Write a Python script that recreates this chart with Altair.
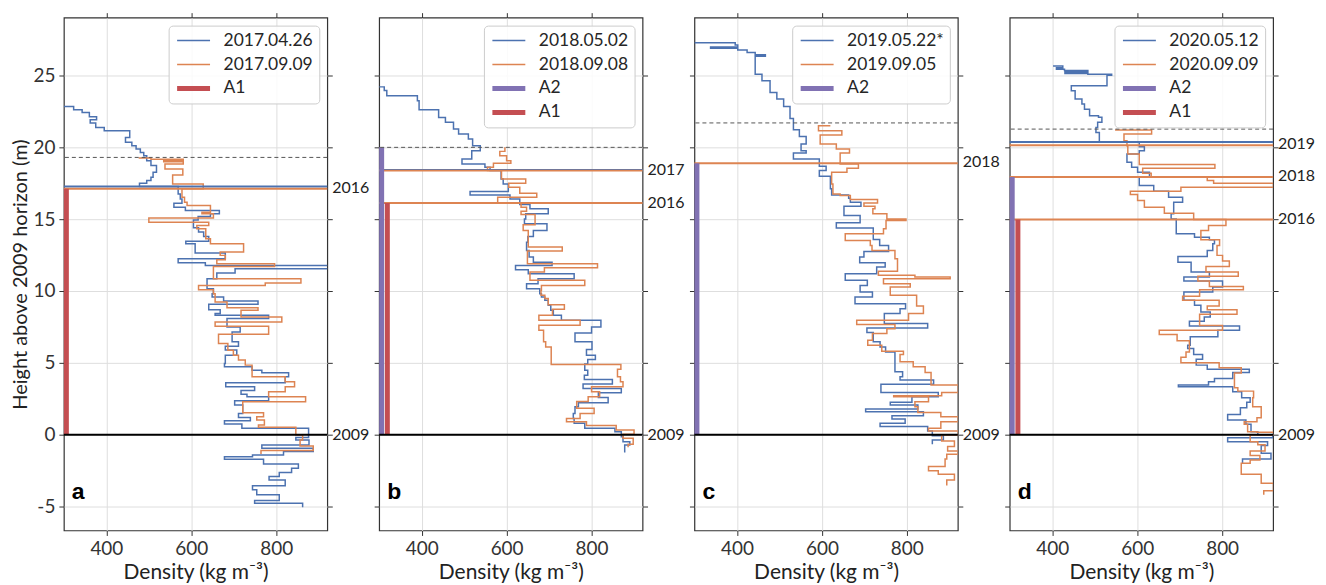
import altair as alt
import pandas as pd

FONT = "Lato"
BLUE, ORANGE, RED, PURPLE = "#4c72b0", "#dd8452", "#c44e52", "#8172b3"
W, H = 264, 514
XDOM = [300, 920]
YDOM = [-6.67, 29.03]
XTICKS = [400, 600, 800]
YTICKS = [-5, 0, 5, 10, 15, 20, 25]

LETTERS = ["a", "b", "c", "d"]
BLUE_NAMES = ["2017.04.26", "2018.05.02", "2019.05.22*", "2020.05.12"]
ORANGE_NAMES = ["2017.09.09", "2018.09.08", "2019.09.05", "2020.09.09"]
SURFACE = [19.3, 20.0, 21.7, 21.27]
A1_TOP = [17.12, 16.13, None, 14.98]
A2_TOP = [None, 20.0, 18.9, 17.94]
HOR_BLUE = [[17.27], [18.42], [], [20.37]]
HOR_ORANGE = [[17.12], [18.38, 16.13], [18.9], [20.14, 17.94, 14.98]]
YEAR_LABELS = [["2016", "2009"], ["2017", "2016", "2009"], ["2018", "2009"],
               ["2019", "2018", "2016", "2009"]]
YEAR_LABEL_H = [[17.2, 0], [18.45, 16.15, 0], [18.95, 0], [20.2, 17.99, 15.0, 0]]

# ---- density profiles: layer tops (m) and densities (kg m-3) ----
A_BLUE_START, A_BLUE_BOTTOM = 300, -5.05
A_BLUE_H = [22.84, 22.62, 22.43, 22.13, 21.92, 21.69, 21.39, 21.16, 20.69, 20.35, 20.12, 19.88, 19.65,
            19.42, 19.07, 18.73, 18.26, 17.92, 17.69, 17.50, 17.27, 16.76, 16.41, 16.11, 15.83, 15.60,
            15.37, 15.19, 14.95, 14.40, 14.10, 13.80, 13.47, 13.29, 12.64, 12.25, 11.97, 11.78, 11.55,
            11.25, 10.86, 10.16, 9.81, 9.58, 9.31, 9.07, 8.70, 8.43, 8.31, 8.08, 7.50, 7.15, 6.46, 6.16,
            5.90, 5.53, 4.95, 4.72, 4.49, 4.31, 4.03, 3.61, 3.33, 3.08, 2.82, 2.64, 2.36, 2.06, 1.48,
            1.20, 0.97, 0.74, 0.44, -0.19, -0.37, -0.72, -0.95, -1.18, -1.41, -1.53, -1.71, -2.04,
            -2.34, -2.64, -2.92, -3.15, -3.56, -3.84, -4.19, -4.58, -4.77]
A_BLUE_D = [323, 343, 360, 377, 362, 375, 395, 455, 445, 460, 470, 480, 488, 495, 505, 518, 510, 505,
            495, 478, 569, 574, 578, 559, 586, 666, 645, 616, 605, 617, 629, 641, 587, 609, 680, 569,
            633, 923, 703, 660, 637, 652, 649, 676, 757, 641, 668, 656, 782, 684, 715, 696, 711, 680,
            707, 680, 678, 743, 766, 829, 821, 681, 749, 717, 731, 782, 702, 721, 711, 739, 678, 719,
            876, 846, 877, 766, 887, 817, 744, 678, 770, 852, 836, 807, 783, 821, 744, 754, 807, 749, 862]

A_OR_START, A_OR_BOTTOM = 476, -1.35
A_OR_H = [19.26, 19.18, 19.08, 19.00, 18.84, 18.50, 18.08, 17.45, 17.12, 16.53, 16.18, 15.95, 15.49,
          15.37, 15.09, 14.79, 14.56, 14.33, 13.63, 13.29, 12.71, 12.48, 12.18, 11.90, 11.71, 10.86,
          10.56, 10.39, 10.09, 9.81, 9.24, 8.84, 8.66, 8.19, 7.85, 7.55, 6.99, 6.34, 5.88, 5.53, 5.19,
          4.84, 4.03, 3.68, 3.33, 2.99, 2.64, 2.29, 1.53, 1.25, 1.02, 0.67, 0.51, -0.02, -0.37, -0.79,
          -1.11]
A_OR_D = [505, 581, 535, 581, 538, 580, 556, 628, 578, 584, 590, 645, 625, 652, 500, 641, 613, 634,
          645, 723, 668, 680, 660, 796, 652, 858, 774, 617, 652, 656, 684, 757, 717, 813, 656, 782,
          664, 686, 699, 711, 727, 743, 821, 843, 821, 782, 869, 721, 770, 754, 772, 758, 846, 862,
          856, 887, 764]

B_BLUE_START, B_BLUE_BOTTOM = 300, -1.25
B_BLUE_H = [24.21, 23.95, 23.59, 23.24, 22.62, 22.08, 21.74, 21.27, 20.93, 20.58, 20.12, 19.77, 19.19,
            18.84, 18.61, 18.38, 17.80, 17.45, 16.92, 16.69, 16.41, 16.02, 15.72, 15.37, 15.02, 14.68,
            14.21, 13.80, 13.40, 12.82, 12.36, 12.01, 11.78, 11.48, 11.20, 10.86, 10.51, 10.16, 9.81,
            9.58, 9.35, 9.00, 8.66, 8.31, 7.96, 7.50, 7.08, 6.46, 5.93, 5.53, 5.23, 4.91, 4.49, 4.14,
            3.84, 3.52, 3.22, 2.92, 2.59, 2.22, 1.94, 1.48, 1.13, 0.79, 0.44, 0.21, -0.14, -0.49, -0.72]
B_BLUE_D = [312, 318, 390, 394, 440, 456, 475, 487, 510, 520, 538, 518, 495, 549, 561, 587, 592, 604,
            514, 608, 631, 655, 698, 645, 642, 695, 663, 650, 647, 653, 663, 707, 621, 651, 759, 674,
            647, 678, 682, 690, 698, 704, 710, 729, 822, 800, 761, 801, 788, 809, 791, 784, 791, 783,
            849, 780, 870, 816, 839, 769, 761, 757, 759, 784, 855, 870, 874, 890, 878]

B_OR_START, B_OR_BOTTOM = 596, -0.88
B_OR_H = [20.00, 19.72, 19.42, 19.07, 18.89, 18.61, 18.38, 17.80, 17.50, 17.22, 16.81, 16.53, 16.13,
          15.83, 15.56, 15.32, 14.61, 14.21, 13.06, 12.78, 11.90, 11.62, 11.32, 10.74, 10.39, 10.05,
          9.70, 9.47, 9.05, 8.73, 8.31, 7.96, 7.62, 7.27, 6.46, 6.11, 4.88, 4.56, 4.03, 3.68, 3.33,
          2.99, 2.64, 2.30, 1.83, 1.48, 1.13, 0.90, 0.63, 0.32, 0.02, -0.25, -0.67]
B_OR_D = [596, 584, 600, 610, 569, 555, 588, 645, 605, 631, 671, 579, 634, 647, 634, 667, 639, 651,
          731, 649, 814, 689, 655, 784, 682, 681, 690, 698, 736, 708, 676, 773, 676, 687, 692, 705,
          869, 861, 868, 874, 800, 819, 792, 765, 806, 773, 741, 788, 858, 900, 874, 898, 886]

C_BLUE_START, C_BLUE_BOTTOM = 300, -0.67
C_BLUE_H = [27.29, 27.12, 26.98, 26.90, 26.78, 26.60, 26.45, 26.35, 25.09, 24.63, 23.82, 23.36, 22.85,
            22.01, 21.23, 20.76, 20.23, 19.77, 19.61, 19.19, 18.68, 18.38, 17.99, 17.11, 16.69, 16.46,
            16.18, 15.90, 15.25, 14.75, 14.38, 13.59, 13.17, 12.75, 12.36, 11.97, 11.67, 11.20, 10.74,
            10.39, 9.93, 9.58, 9.12, 8.77, 8.43, 7.73, 7.43, 7.11, 6.46, 6.11, 5.76, 4.38, 4.03, 3.80,
            3.50, 2.94, 2.64, 2.25, 2.06, 1.78, 1.60, 1.32, 1.09, 0.79, 0.56, 0.25, -0.07, -0.37]
C_BLUE_D = [396, 402, 338, 402, 424, 443, 467, 443, 459, 478, 494, 510, 525, 533, 547, 563, 551, 563,
            533, 594, 610, 594, 620, 623, 663, 667, 692, 652, 690, 634, 721, 736, 757, 699, 689, 749,
            729, 655, 707, 690, 719, 678, 797, 784, 747, 849, 706, 721, 737, 750, 772, 790, 784, 863,
            739, 874, 812, 761, 826, 703, 839, 765, 796, 737, 849, 860, 886, 860]

C_OR_START, C_OR_BOTTOM = 620, -3.54
C_OR_H = [21.50, 21.16, 20.86, 20.23, 19.88, 19.61, 18.84, 18.54, 18.26, 17.45, 16.76, 16.64, 16.37,
          16.13, 15.90, 15.72, 15.37, 15.02, 14.90, 14.33, 13.98, 13.52, 13.17, 12.82, 12.25, 11.37,
          11.09, 10.98, 10.86, 10.51, 10.28, 9.70, 8.96, 8.43, 7.96, 7.66, 7.38, 7.04, 6.57, 6.23,
          5.81, 5.58, 5.07, 4.72, 4.33, 3.45, 2.94, 2.70, 2.64, 2.29, 1.94, 1.55, 1.25, 0.90, 0.44,
          0.25, -0.02, -0.44, -0.83, -1.13, -1.37, -1.69, -2.22, -2.52, -2.75, -3.15]
C_OR_D = [592, 647, 596, 634, 665, 643, 686, 659, 623, 626, 643, 667, 731, 699, 725, 720, 753, 798,
          751, 745, 655, 714, 718, 772, 778, 733, 819, 902, 745, 808, 761, 823, 839, 804, 682, 772,
          753, 719, 708, 741, 792, 784, 815, 843, 857, 921, 882, 769, 851, 819, 826, 880, 921, 880,
          851, 921, 882, 912, 896, 921, 894, 890, 851, 874, 912, 894]

D_BLUE_START, D_BLUE_BOTTOM = 402, -1.99
D_BLUE_H = [25.67, 25.55, 25.44, 25.35, 25.25, 25.14, 25.09, 25.02, 24.28, 23.94, 23.36, 23.01, 22.66,
            22.20, 22.10, 21.74, 21.39, 21.04, 20.35, 20.05, 19.77, 19.54, 18.96, 18.61, 18.26, 17.92,
            17.34, 16.94, 16.53, 16.18, 15.37, 15.02, 13.98, 13.75, 13.56, 13.29, 12.82, 12.41, 12.01,
            11.32, 10.97, 10.69, 10.28, 9.93, 9.35, 9.00, 8.54, 8.19, 7.89, 7.57, 7.27, 6.81, 6.23,
            6.00, 5.58, 5.25, 4.84, 4.56, 4.33, 3.91, 3.68, 3.45, 3.33, 2.99, 2.57, 2.25, 1.88, 1.41,
            1.02, 0.72, 0.21, -0.02, -0.21, -0.49, -0.76, -1.30, -1.69]
D_BLUE_D = [425, 410, 429, 484, 430, 484, 540, 529, 445, 454, 470, 476, 488, 509, 517, 507, 503, 511,
            605, 617, 605, 576, 587, 601, 629, 605, 639, 674, 707, 686, 680, 692, 735, 770, 782, 778,
            765, 696, 727, 770, 710, 801, 778, 710, 735, 750, 772, 758, 723, 841, 790, 725, 719, 733,
            754, 739, 765, 864, 825, 782, 768, 697, 825, 846, 866, 858, 843, 813, 856, 868, 884, 919,
            813, 907, 892, 915, 848]

D_OR_START, D_OR_BOTTOM = 548, -4.19
D_OR_H = [21.20, 20.93, 20.46, 20.12, 19.54, 18.80, 18.54, 18.19, 17.92, 17.69, 17.50, 17.22, 16.94,
          16.71, 16.30, 15.83, 15.42, 14.98, 14.56, 14.21, 13.56, 13.17, 12.48, 12.08, 11.71, 11.32,
          11.02, 10.69, 10.32, 10.09, 9.63, 9.35, 8.96, 8.70, 8.38, 7.60, 7.27, 6.97, 6.53, 5.76, 5.39,
          5.00, 4.65, 4.30, 3.26, 3.03, 2.57, 1.94, 1.18, 0.90, 0.72, 0.20, 0.16, -0.02, -0.49, -0.70,
          -1.13, -1.45, -1.76, -1.99, -2.75, -3.38, -3.91]
D_OR_D = [634, 569, 576, 578, 605, 783, 613, 633, 765, 780, 921, 703, 584, 601, 617, 664, 733, 809,
          768, 750, 794, 788, 801, 817, 762, 838, 743, 770, 850, 747, 707, 793, 765, 835, 747, 801,
          652, 694, 723, 715, 703, 793, 845, 829, 837, 874, 872, 892, 882, 852, 860, 882, 921, 866,
          884, 901, 866, 889, 866, 845, 892, 921, 898]

PROFILES = [
    [(A_BLUE_START, A_BLUE_H, A_BLUE_D, A_BLUE_BOTTOM), (A_OR_START, A_OR_H, A_OR_D, A_OR_BOTTOM)],
    [(B_BLUE_START, B_BLUE_H, B_BLUE_D, B_BLUE_BOTTOM), (B_OR_START, B_OR_H, B_OR_D, B_OR_BOTTOM)],
    [(C_BLUE_START, C_BLUE_H, C_BLUE_D, C_BLUE_BOTTOM), (C_OR_START, C_OR_H, C_OR_D, C_OR_BOTTOM)],
    [(D_BLUE_START, D_BLUE_H, D_BLUE_D, D_BLUE_BOTTOM), (D_OR_START, D_OR_H, D_OR_D, D_OR_BOTTOM)],
]


def profile_rows(name, start, hs, ds, bottom):
    rows = [dict(series=name, density=start, height=hs[0], idx=0)]
    for i, (h, d) in enumerate(zip(hs, ds)):
        rows.append(dict(series=name, density=d, height=h, idx=i + 1))
    rows.append(dict(series=name, density=ds[-1], height=bottom, idx=len(hs) + 1))
    return rows


def make_panel(k):
    dom = [BLUE_NAMES[k], ORANGE_NAMES[k]]
    rng = [BLUE, ORANGE]
    wid = [1.5, 1.5]
    if A2_TOP[k] is not None:
        dom.append("A2"); rng.append(PURPLE); wid.append(5)
    if A1_TOP[k] is not None:
        dom.append("A1"); rng.append(RED); wid.append(5)

    leg = alt.Legend(orient="top-right", offset=8, title=None, symbolType="stroke",
                     symbolSize=1089, labelFontSize=17.5, labelFont=FONT, labelColor="#262626",
                     fillColor="rgba(255,255,255,0.85)", strokeColor="#cccccc", padding=6,
                     cornerRadius=4, rowPadding=6, labelOffset=11, clipHeight=18)
    color = alt.Color("series:N", scale=alt.Scale(domain=dom, range=rng), legend=leg)
    sw = alt.StrokeWidth("series:N", scale=alt.Scale(type="ordinal", domain=dom, range=wid), legend=leg)
    xs = alt.Scale(domain=XDOM, nice=False, zero=False)
    ys = alt.Scale(domain=YDOM, nice=False, zero=False)

    rows = []
    (bs, bh, bd, bb), (os_, oh, od, ob) = PROFILES[k]
    rows += profile_rows(BLUE_NAMES[k], bs, bh, bd, bb)
    rows += profile_rows(ORANGE_NAMES[k], os_, oh, od, ob)
    prof = pd.DataFrame(rows)

    yaxis_main = alt.Axis(values=YTICKS, labels=(k == 0), grid=True,
                          title="Height above 2009 horizon (m)" if k == 0 else None,
                          titleFontSize=20, titlePadding=2,
                          labelExpr="replace(datum.label, '\u2212', '-')")
    axes = alt.Chart(prof).mark_point(opacity=0).encode(
        x=alt.X("density:Q", scale=xs,
                axis=alt.Axis(values=XTICKS, grid=True, title="Density (kg m\u207b\u00b3)",
                              titlePadding=3, titleFontSize=21)),
        y=alt.Y("height:Q", scale=ys, axis=yaxis_main),
    )
    mirror = alt.Chart(prof).mark_point(opacity=0).encode(
        x=alt.X("density:Q", scale=xs, axis=alt.Axis(orient="top", values=XTICKS, labels=False,
                                                      title=None, grid=False)),
        y=alt.Y("height:Q", scale=ys, axis=alt.Axis(orient="right", values=YTICKS, labels=False,
                                                     title=None, grid=False)),
    )
    lines = alt.Chart(prof).mark_line(interpolate="step-before", clip=True).encode(
        x=alt.X("density:Q", scale=xs, axis=None),
        y=alt.Y("height:Q", scale=ys, axis=None),
        order="idx:Q", color=color, strokeWidth=sw,
    )
    layers = [axes, lines]
    if HOR_BLUE[k]:
        layers.append(alt.Chart(pd.DataFrame({"h": HOR_BLUE[k]})).mark_rule(color=BLUE, strokeWidth=2)
                      .encode(y=alt.Y("h:Q", scale=ys, axis=None)))
    layers.append(alt.Chart(pd.DataFrame({"h": HOR_ORANGE[k]})).mark_rule(color=ORANGE, strokeWidth=2)
                  .encode(y=alt.Y("h:Q", scale=ys, axis=None)))
    if A2_TOP[k] is not None:
        layers.append(alt.Chart(pd.DataFrame([{"series": "A2", "lo": 0, "hi": A2_TOP[k]}])).mark_rule()
                      .encode(x=alt.value(2.5), y=alt.Y("lo:Q", scale=ys, axis=None), y2="hi:Q",
                              color=color, strokeWidth=sw))
    if A1_TOP[k] is not None:
        layers.append(alt.Chart(pd.DataFrame([{"series": "A1", "lo": 0, "hi": A1_TOP[k]}])).mark_rule()
                      .encode(x=alt.value(2.5 if A2_TOP[k] is None else 8.2),
                              y=alt.Y("lo:Q", scale=ys, axis=None), y2="hi:Q",
                              color=color, strokeWidth=sw))
    layers.append(alt.Chart(pd.DataFrame({"h": [0]})).mark_rule(color="black", strokeWidth=2)
                  .encode(y=alt.Y("h:Q", scale=ys, axis=None)))
    layers.append(alt.Chart(pd.DataFrame({"h": [SURFACE[k]]}))
                  .mark_rule(color="#555555", strokeWidth=1, strokeDash=[4, 3])
                  .encode(y=alt.Y("h:Q", scale=ys, axis=None)))
    layers.append(alt.Chart(pd.DataFrame({"h": YEAR_LABEL_H[k], "t": YEAR_LABELS[k]}))
                  .mark_text(align="left", baseline="middle", fontSize=16, font=FONT, color="#222222")
                  .encode(x=alt.value(W + 5), y=alt.Y("h:Q", scale=ys, axis=None), text="t:N"))
    layers.append(alt.Chart(pd.DataFrame({"t": [LETTERS[k]]}))
                  .mark_text(align="left", baseline="middle", fontSize=23, fontWeight="bold",
                             font="Liberation Sans", color="black")
                  .encode(x=alt.value(8), y=alt.value(475), text="t:N"))
    layers.append(mirror)
    return alt.layer(*layers).resolve_axis(x="independent", y="independent").properties(width=W, height=H)


panels = [make_panel(k) for k in range(4)]
chart = (
    alt.hconcat(*panels, spacing=52, bounds="flush")
    .resolve_scale(color="independent", strokeWidth="independent")
    .properties(padding={"left": 2, "top": 2, "right": 2, "bottom": 0})
    .configure(font=FONT)
    .configure_view(stroke="#333333", strokeWidth=1.2)
    .configure_axis(labelFontSize=19, labelColor="#333333", tickColor="#333333", tickSize=5,
                    tickWidth=1, domain=False, gridColor="#dedede", gridWidth=1, titleFontSize=19,
                    titleFontWeight="normal", titleColor="#222222", labelFont=FONT, titleFont=FONT,
                    labelPadding=4)
)
chart.save("out.html", embed_options={"renderer": "svg", "actions": False})
